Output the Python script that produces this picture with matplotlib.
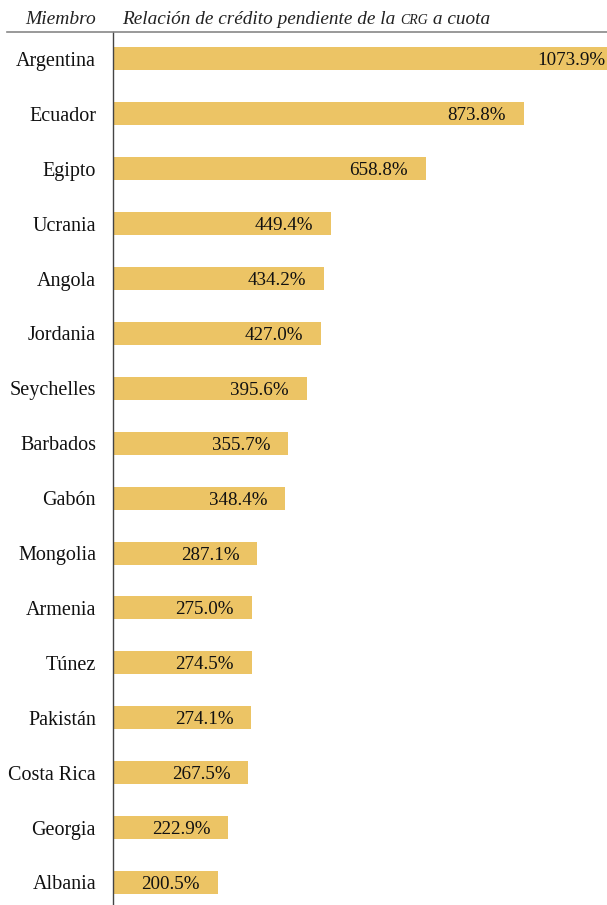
import matplotlib
matplotlib.use('Agg')
import matplotlib.pyplot as plt

MEMBERS = ['Argentina', 'Ecuador', 'Egipto', 'Ucrania', 'Angola', 'Jordania',
           'Seychelles', 'Barbados', 'Gabón', 'Mongolia', 'Armenia', 'Túnez',
           'Pakistán', 'Costa Rica', 'Georgia', 'Albania']
RATIO = [1073.9, 873.8, 658.8, 449.4, 434.2, 427.0, 395.6, 355.7, 348.4,
         287.1, 275.0, 274.5, 274.1, 267.5, 222.9, 200.5]
LABELS = [f'{v:.1f}%' for v in RATIO]

BAR_COLOR = '#ECC465'
SERIF = ['Liberation Serif', 'DejaVu Serif']
XMIN, XMAX = -30.8, 1057.5

fig = plt.figure(figsize=(6.07, 9.05), dpi=100)
ax = fig.add_axes([113 / 607, 0, 1 - 113 / 607, 1 - 32 / 905])

ypos = list(range(len(MEMBERS)))
ax.barh(ypos, [v - (XMIN + 2) for v in RATIO], left=XMIN + 2, height=0.42,
        color=BAR_COLOR, edgecolor='none')

for y, v, lab in zip(ypos, RATIO, LABELS):
    if v > XMAX:
        xend, off = XMAX, -2
    else:
        xend, off = v, -18
    ax.annotate(lab, xy=(xend, y), xytext=(off, 0), textcoords='offset pixels',
                ha='right', va='center_baseline', fontsize=13.7,
                family=SERIF, color='#111111')
    ax.annotate(MEMBERS[y], xy=(0, y), xycoords=('axes fraction', 'data'),
                xytext=(-17, 0), textcoords='offset pixels', ha='right',
                va='center_baseline', fontsize=14.5, family=SERIF,
                color='#111111', annotation_clip=False)

ax.set_xlim(XMIN, XMAX)
ax.set_ylim(15.41, -0.49)
ax.set_xticks([])
ax.set_yticks([])
for s in ['top', 'right', 'bottom']:
    ax.spines[s].set_visible(False)
ax.spines['left'].set_color('#444444')
ax.spines['left'].set_linewidth(1.0)

# header row (CRG in small caps, same baseline)
fig.add_artist(plt.Line2D([7 / 607, 1], [1 - 32 / 905] * 2,
                          color='#888888', lw=1.2))
hdr = dict(va='baseline', style='italic', family=SERIF, color='#222222')
base_y = 1 - 24 / 905
fig.text(96 / 607, base_y, 'Miembro', ha='right', fontsize=14, **hdr)
renderer = fig.canvas.get_renderer()
x = 122 / 607
for piece, size in [('Relación de crédito pendiente de la ', 13.9),
                    ('CRG', 10), (' a cuota', 13.9)]:
    t = fig.text(x, base_y, piece, ha='left', fontsize=size, **hdr)
    bb = t.get_window_extent(renderer)
    x = bb.x1 / fig.bbox.width

fig.savefig('out.png', dpi=100)
